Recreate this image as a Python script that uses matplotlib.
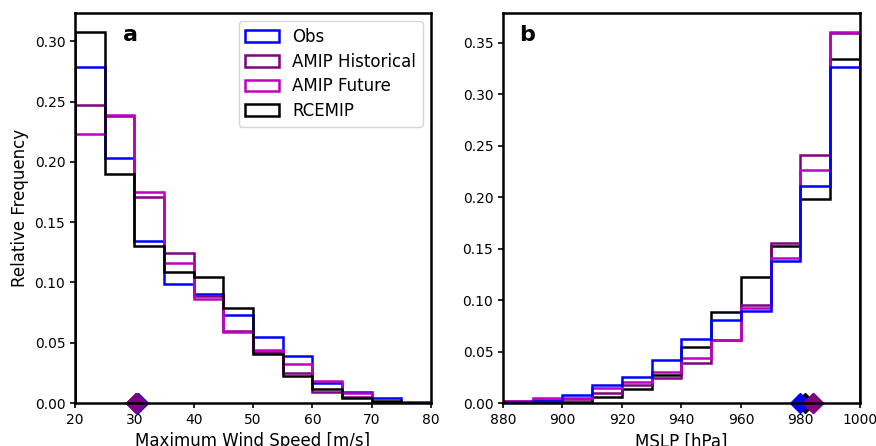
import numpy as np
import matplotlib
matplotlib.use("Agg")
import matplotlib.pyplot as plt

# ---- data ----
series_names = ["Obs", "AMIP Historical", "AMIP Future", "RCEMIP"]
series_colors = ["#0000ff", "#800080", "#c000c0", "#000000"]

wind_edges = np.arange(20, 81, 5)
wind_obs  = [0.279, 0.203, 0.134, 0.099, 0.090, 0.073, 0.055, 0.039, 0.017, 0.009, 0.0038, 0.001]
wind_hist = [0.247, 0.238, 0.171, 0.124, 0.089, 0.0595, 0.042, 0.025, 0.009, 0.005, 0.001, 0.0]
wind_fut  = [0.223, 0.239, 0.175, 0.116, 0.086, 0.0585, 0.044, 0.032, 0.0185, 0.008, 0.001, 0.0]
wind_rce  = [0.308, 0.190, 0.130, 0.109, 0.1045, 0.0787, 0.0407, 0.022, 0.012, 0.004, 0.002, 0.0]
wind_markers = [30.7, 30.3, 30.3, 30.3]   # Obs, Hist, Fut, RCE

mslp_edges = np.arange(880, 1001, 10)
mslp_obs  = [0.0005, 0.0015, 0.0075, 0.0175, 0.0256, 0.0418, 0.0623, 0.0805, 0.0898, 0.1382, 0.2111, 0.3263]
mslp_hist = [0.0015, 0.003, 0.004, 0.0095, 0.0175, 0.024, 0.0392, 0.061, 0.0951, 0.155, 0.241, 0.3597]
mslp_fut  = [0.002, 0.0045, 0.0045, 0.0145, 0.0201, 0.0298, 0.0435, 0.061, 0.0927, 0.1404, 0.226, 0.3607]
mslp_rce  = [0.0, 0.0005, 0.001, 0.006, 0.0133, 0.0269, 0.0548, 0.0882, 0.1226, 0.1525, 0.1985, 0.3344]
mslp_markers = [980.0, 984.3, 984.2, 981.6]

fig = plt.figure(figsize=(8.76, 4.46), dpi=100)
axA = fig.add_axes([0.0856, 0.0964, 0.4064, 0.8745])
axB = fig.add_axes([0.5742, 0.0964, 0.4075, 0.8745])

lw = 1.8

# Panel a
wind_vals = [wind_obs, wind_hist, wind_fut, wind_rce]
zA = [2, 3, 4, 5]
for vals, name, col, z in zip(wind_vals, series_names, series_colors, zA):
    axA.hist(wind_edges[:-1], bins=wind_edges, weights=vals, histtype="step",
             color=col, lw=lw, label=name, zorder=z)
mzA = [6, 9, 8, 7]
for xm, col, z in zip(wind_markers, series_colors, mzA):
    axA.plot([xm], [0], marker="D", ms=10, color=col, clip_on=False, zorder=z, ls="none")
axA.set_xlim(20, 80)
axA.set_ylim(0, 0.308 * 1.05)
axA.set_xlabel("Maximum Wind Speed [m/s]", fontsize=12)
axA.set_ylabel("Relative Frequency", fontsize=12)
axA.text(0.157, 0.944, "a", transform=axA.transAxes, fontsize=16, fontweight="bold",
         ha="center", va="center")
axA.legend(loc="upper right", fontsize=12, labelspacing=0.4)

# Panel b
mslp_vals = [mslp_obs, mslp_hist, mslp_fut, mslp_rce]
zB = [5, 3, 4, 2]
for vals, name, col, z in zip(mslp_vals, series_names, series_colors, zB):
    axB.hist(mslp_edges[:-1], bins=mslp_edges, weights=vals, histtype="step",
             color=col, lw=lw, label=name, zorder=z)
mzB = [7, 9, 8, 6]
for xm, col, z in zip(mslp_markers, series_colors, mzB):
    axB.plot([xm], [0], marker="D", ms=10, color=col, clip_on=False, zorder=z, ls="none")
axB.set_xlim(880, 1000)
axB.set_ylim(0, 0.3607 * 1.05)
axB.set_xlabel("MSLP [hPa]", fontsize=12)
axB.text(0.067, 0.944, "b", transform=axB.transAxes, fontsize=16, fontweight="bold",
         ha="center", va="center")

for ax in (axA, axB):
    for s in ax.spines.values():
        s.set_linewidth(lw)
        s.set_zorder(10)
    ax.tick_params(labelsize=10, width=1.2)

fig.savefig("out.png", dpi=100)
